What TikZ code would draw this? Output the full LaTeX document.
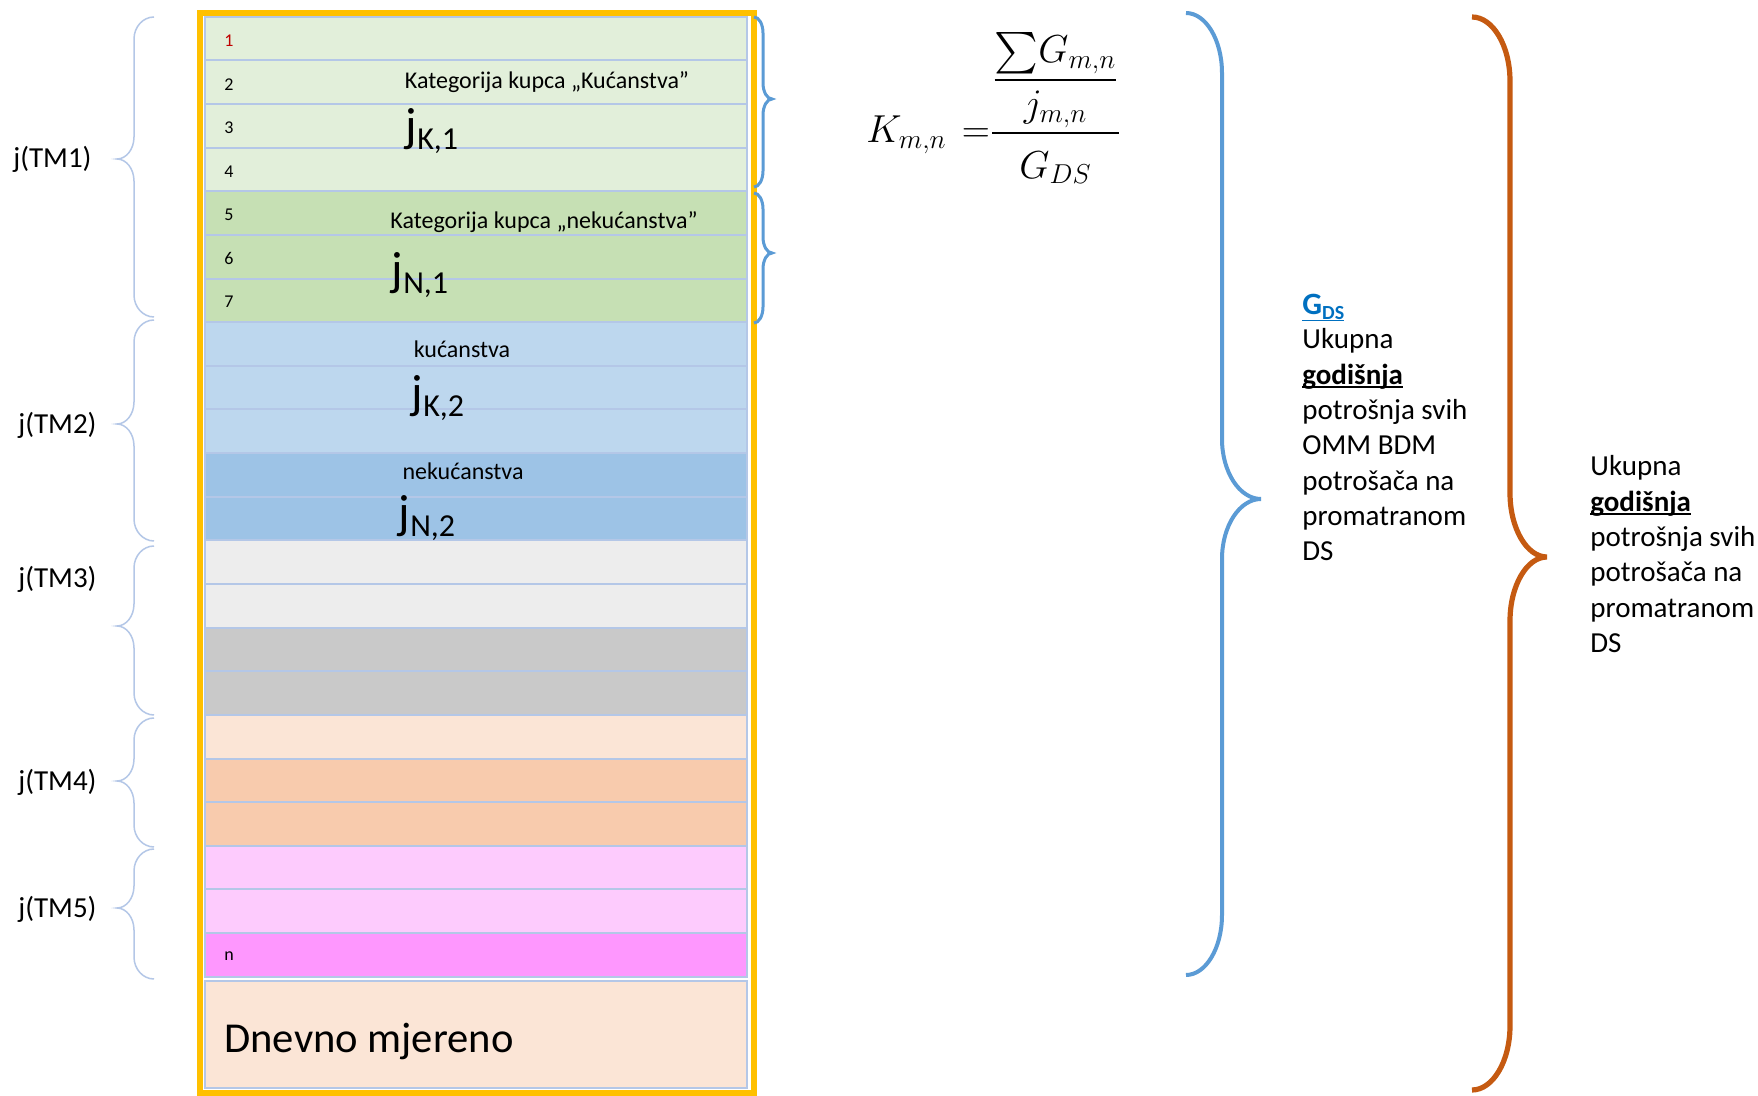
\RequirePackage{fix-cm}
\documentclass[tikz,border=0pt]{standalone}
\usepackage{amsmath}
\usepackage{fontspec}
\setmainfont{Carlito}
\definecolor{cA}{HTML}{E2EFDA}
\definecolor{cB}{HTML}{C6E0B4}
\definecolor{cC}{HTML}{BDD7EE}
\definecolor{cD}{HTML}{9DC3E6}
\definecolor{cE}{HTML}{EDEDED}
\definecolor{cF}{HTML}{C9C9C9}
\definecolor{cG}{HTML}{FBE5D6}
\definecolor{cH}{HTML}{F8CBAD}
\definecolor{cI}{HTML}{FDCBFD}
\definecolor{cJ}{HTML}{FE97FE}
\definecolor{rowblue}{HTML}{B4C7E7}
\definecolor{orframe}{HTML}{FFC000}
\definecolor{bbr}{HTML}{5B9BD5}
\definecolor{obr}{HTML}{C55A11}
\definecolor{gdsblue}{HTML}{0070C0}
\definecolor{numred}{HTML}{C00000}
\newcommand\wordul[2][-1.8pt]{\setbox0=\hbox{#2}\rlap{\rule[#1]{\wd0}{0.9pt}}\box0}
\newcommand\jsub[2]{{\fontsize{24}{26}\selectfont j\raisebox{-4pt}{\fontsize{16}{18}\selectfont #1,#2}}}
\newcommand\drawbrace[8]{%
\draw[#1] (#2,#5) .. controls ({#2+0.55*(#3-#2)},#5) and (#3,{#5+0.45*#8}) .. (#3,{#5+#8})
 -- (#3,{#6-#8}) .. controls (#3,{#6-0.45*#8}) and ({#3+0.45*(#4-#3)},#6) .. (#4,#6)
 .. controls ({#3+0.45*(#4-#3)},#6) and (#3,{#6+0.45*#8}) .. (#3,{#6+#8})
 -- (#3,{#7-#8}) .. controls (#3,{#7-0.45*#8}) and ({#2+0.55*(#3-#2)},#7) .. (#2,#7);}
\begin{document}
\begin{tikzpicture}[x=0.5pt,y=-0.5pt,
 rowline/.style={draw=rowblue, line width=1pt},
 num/.style={font=\fontsize{9}{10}\selectfont, inner sep=0},
 cat/.style={font=\fontsize{12}{14}\selectfont, inner sep=0},
 jlab/.style={inner sep=0},
 lab/.style={font=\fontsize{14.5}{17}\selectfont, anchor=west, inner sep=0},
 rtext/.style={font=\fontsize{14.5}{17.6}\selectfont, anchor=base west, inner sep=0},
 lbrace/.style={draw=rowblue, line width=0.75pt},
 sbrace/.style={draw=bbr, line width=1.5pt},
 bigblue/.style={draw=bbr, line width=2pt},
 bigorange/.style={draw=obr, line width=2.6pt}]
\useasboundingbox (0,0) rectangle (1758,1096);
\fill[white] (0,0) rectangle (1758,1096);
% rows
\foreach \i/\c in {1/cA,2/cA,3/cA,4/cA,5/cB,6/cB,7/cB,8/cC,9/cC,10/cC,11/cD,12/cD,13/cE,14/cE,15/cF,16/cF,17/cG,18/cH,19/cH,20/cI,21/cI,22/cJ}
  \draw[rowline, fill=\c] (205,{16.8+43.63*(\i-1)}) rectangle (747,{16.8+43.63*\i});
\draw[rowline, fill=cG] (205,981) rectangle (747,1088);
\draw[draw=orframe, line width=3pt] (200,13) rectangle (754,1093);
% row numbers
\node[num, text=numred] (n1) at (229,41) {1};
\node[num] (n2) at (229,84.5) {2};
\node[num] (n3) at (229,128) {3};
\node[num] (n4) at (229,171.5) {4};
\node[num] (n5) at (229,215) {5};
\node[num] (n6) at (229,258.5) {6};
\node[num] (n7) at (229,302) {7};
\node[num] (nn) at (229,956.5) {n};
% row texts
\node[cat] (katK) at (547,82) {Kategorija kupca „Kućanstva”};
\node[jlab] (jK1) at (432,131) {\jsub{K}{1}};
\node[cat] (katN) at (544,222) {Kategorija kupca „nekućanstva”};
\node[jlab] (jN1) at (420,275) {\jsub{N}{1}};
\node[cat] (kuc) at (462,349) {kućanstva};
\node[jlab] (jK2) at (438,398) {\jsub{K}{2}};
\node[cat] (nek) at (463,471) {nekućanstva};
\node[jlab] (jN2) at (427,518) {\jsub{N}{2}};
\node[anchor=west, inner sep=0, font=\fontsize{21.3}{24}\selectfont] (dnevno) at (224,1041) {Dnevno mjereno};
% left braces and labels
\drawbrace{lbrace}{154}{134}{117}{17}{159}{317}{22}
\drawbrace{lbrace}{154}{134}{117}{320}{424}{541}{22}
\drawbrace{lbrace}{154}{134}{117}{546}{626}{715}{22}
\drawbrace{lbrace}{154}{134}{117}{718}{781}{847}{22}
\drawbrace{lbrace}{154}{134}{117}{849}{908}{979}{22}
\node[lab] (tm1) at (13,159) {j(TM1)};
\node[lab] (tm2) at (18,425) {j(TM2)};
\node[lab] (tm3) at (18,579) {j(TM3)};
\node[lab] (tm4) at (18,782) {j(TM4)};
\node[lab] (tm5) at (18,909) {j(TM5)};
% small right braces
\drawbrace{sbrace}{754}{763}{772}{17}{99}{187}{16}
\drawbrace{sbrace}{754}{763}{772}{193}{253}{323}{16}
% formula
\node[anchor=base west, inner sep=0, font=\fontsize{19.5}{23}\selectfont] (frm) at (866,143)
  {$K_{m{,}n}\mkern7mu{=}\mkern0mu\dfrac{\dfrac{\textstyle\sum\! G_{m{,}n}}{j_{m{,}n}}}{\rule{0pt}{1.0em}G_{DS}}$};
% big braces
\drawbrace{bigblue}{1186}{1222}{1261}{13}{499}{975}{60}
\drawbrace{bigorange}{1472}{1510}{1547}{17}{557}{1090}{64}
% right text block 1
\node[rtext] (g0) at (1302,315) {\textcolor{gdsblue}{\bfseries\wordul[-3.2pt]{{\fontsize{15.5}{17}\selectfont G}\raisebox{-2.5pt}{\fontsize{10}{12}\selectfont DS}}}};
\node[rtext] (g1) at (1302,349) {Ukupna};
\node[rtext] (g2) at (1302,384.3) {\bfseries\wordul{godišnja}};
\node[rtext] (g3) at (1302,419.6) {potrošnja svih};
\node[rtext] (g4) at (1302,454.9) {OMM BDM};
\node[rtext] (g5) at (1302,490.2) {potrošača na};
\node[rtext] (g6) at (1302,525.5) {promatranom};
\node[rtext] (g7) at (1302,560.8) {DS};
% right text block 2
\node[rtext] (u1) at (1590,476) {Ukupna};
\node[rtext] (u2) at (1590,511.3) {\bfseries\wordul{godišnja}};
\node[rtext] (u3) at (1590,546.6) {potrošnja svih};
\node[rtext] (u4) at (1590,581.9) {potrošača na};
\node[rtext] (u5) at (1590,617.2) {promatranom};
\node[rtext] (u6) at (1590,652.5) {DS};
\end{tikzpicture}
\end{document}
